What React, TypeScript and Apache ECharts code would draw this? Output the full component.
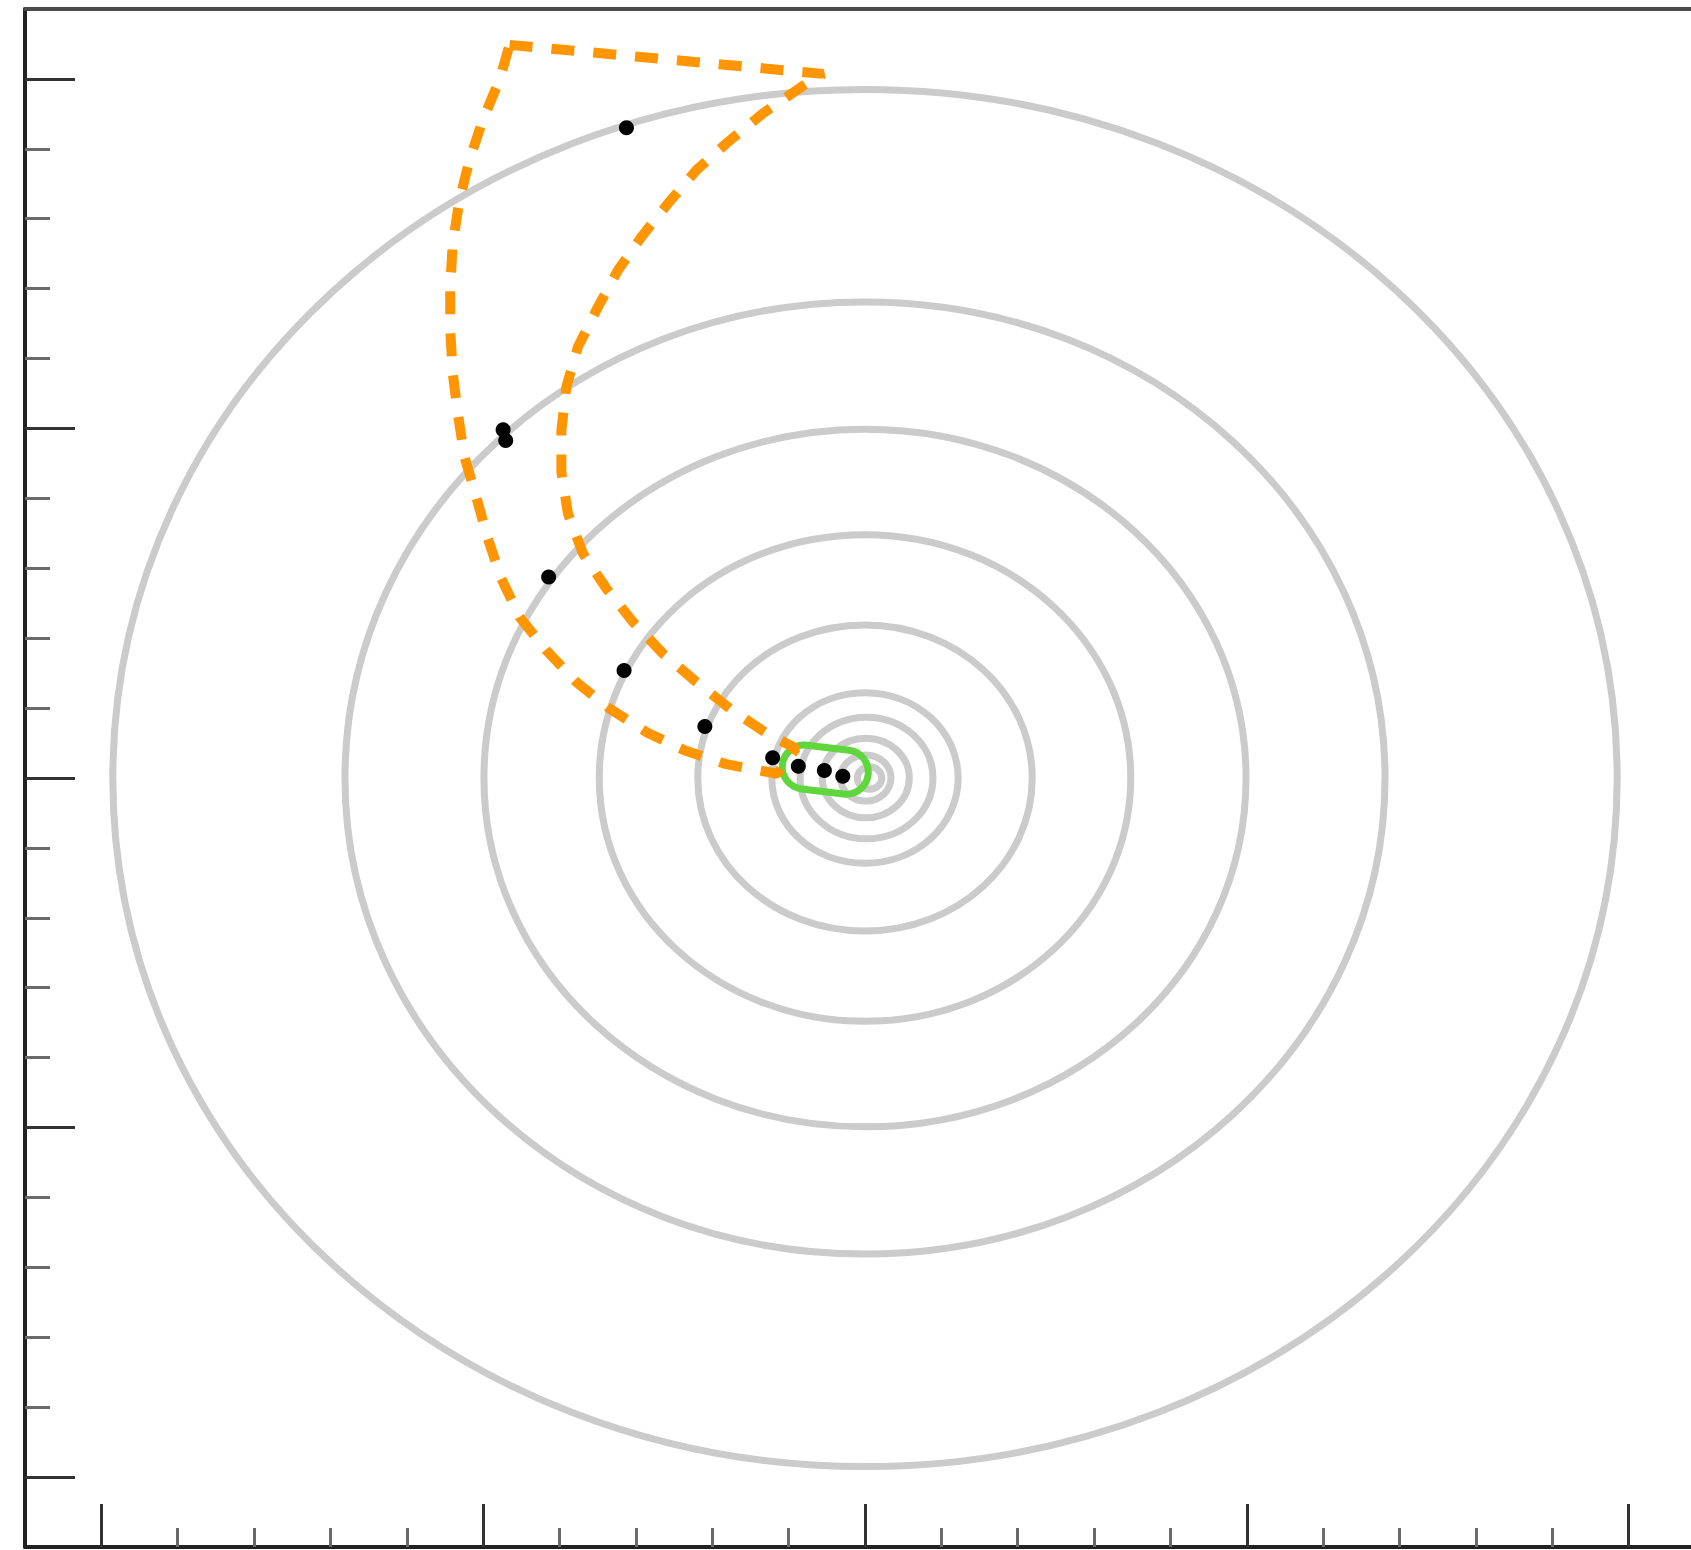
import React, { useEffect, useRef } from "react";
import * as echarts from "echarts";

// Closed orbits of the trajectory: centre (x, y) and radius, in axis units
const ringCx = [0, 0, 0, 0, 0, 0, 0.002, 0.001, 0.001, 0.006];
const ringCy = [0, 0, 0, 0, 0, 0, 0, 0, 0, 0];
const ringR = [0.985, 0.681, 0.499, 0.348, 0.219, 0.122, 0.087, 0.057, 0.033, 0.016];

// Sampled states along the trajectory
const dotX = [-0.3124, -0.4739, -0.4705, -0.4143, -0.3155, -0.2097, -0.1209, -0.0873, -0.0532, -0.0291];
const dotY = [0.9303, 0.4983, 0.4828, 0.2875, 0.1539, 0.0737, 0.0289, 0.0169, 0.0107, 0.0026];

// Dashed region outline: top edge, inner boundary, closing edge, outer boundary
const regionX = [
  -0.4654, -0.0546,
  -0.0763, -0.1332, -0.1812, -0.2206, -0.2578, -0.2927, -0.3234, -0.3496, -0.3759, -0.3911,
  -0.3976, -0.3976, -0.389, -0.3693, -0.3386, -0.3037, -0.2644, -0.2206, -0.1769, -0.131, -0.0904,
  -0.115, -0.1835, -0.2359, -0.2862, -0.3343, -0.378, -0.4173, -0.4523, -0.4763, -0.4939, -0.5091,
  -0.5245, -0.5332, -0.5398, -0.5432, -0.5432, -0.5398, -0.531, -0.5179, -0.5005, -0.4786, -0.4654,
];
const regionY = [
  1.0487, 1.0072,
  0.9938, 0.9509, 0.908, 0.8697, 0.822, 0.7742, 0.7266, 0.674, 0.6167, 0.5595,
  0.4975, 0.4378, 0.3782, 0.321, 0.2709, 0.2231, 0.1778, 0.1372, 0.0991, 0.0656, 0.0422,
  0.006, 0.0203, 0.0394, 0.0656, 0.0991, 0.1372, 0.1825, 0.2302, 0.2852, 0.3424, 0.402,
  0.4593, 0.5214, 0.5787, 0.6407, 0.7027, 0.7648, 0.8268, 0.884, 0.9413, 0.9986, 1.0487,
];

// Target zone: centre x, centre y, width, height (axis units), tilt in degrees
const targetZone = [-0.052, 0.012, 0.113, 0.063, -7];

// Axis ticks
const minorTicks = [-0.9, -0.8, -0.7, -0.6, -0.4, -0.3, -0.2, -0.1, 0.1, 0.2, 0.3, 0.4, 0.6, 0.7, 0.8, 0.9];
const majorTicks = [-1, -0.5, 0, 0.5, 1];
const axisMin = -1.1;
const axisMax = 1.1;

export default function App() {
  const ref = useRef<HTMLDivElement>(null);

  useEffect(() => {
    if (!ref.current) return;
    const chart = echarts.init(ref.current, null, { renderer: "svg" });

    const rings = ringR.map((r, i) => [ringCx[i], ringCy[i], r]);
    const dots = dotX.map((x, i) => [x, dotY[i]]);
    const region = regionX.map((x, i) => [x, regionY[i]]);

    const baseAxis = {
      type: "value" as const,
      min: axisMin,
      max: axisMax,
      axisLabel: { show: false },
      splitLine: { show: false },
    };

    const xMinor = {
      ...baseAxis,
      position: "bottom",
      axisLine: { show: true, onZero: false, lineStyle: { color: "#222", width: 4 } },
      axisTick: { show: true, inside: true, length: 19, customValues: minorTicks, lineStyle: { color: "#6a6a6a", width: 3 } },
    };
    const xMajor = {
      ...baseAxis,
      position: "bottom",
      axisLine: { show: false, onZero: false },
      axisTick: { show: true, inside: true, length: 43, customValues: majorTicks, lineStyle: { color: "#333", width: 3 } },
    };
    const xTop = {
      ...baseAxis,
      position: "top",
      axisLine: { show: true, onZero: false, lineStyle: { color: "#4a4a4a", width: 4 } },
      axisTick: { show: false },
    };
    const yMinor = {
      ...baseAxis,
      position: "left",
      axisLine: { show: true, onZero: false, lineStyle: { color: "#222", width: 4 } },
      axisTick: { show: true, inside: true, length: 25, customValues: minorTicks, lineStyle: { color: "#6a6a6a", width: 3 } },
    };
    const yMajor = {
      ...baseAxis,
      position: "left",
      axisLine: { show: false, onZero: false },
      axisTick: { show: true, inside: true, length: 50, customValues: majorTicks, lineStyle: { color: "#333", width: 3 } },
    };

    chart.setOption({
      animation: false,
      backgroundColor: "#ffffff",
      grid: { left: 25, top: 9, width: 1680, height: 1538, containLabel: false, outerBoundsMode: "none" },
      xAxis: [xMinor, xMajor, xTop],
      yAxis: [yMinor, yMajor],
      series: [
        {
          type: "custom",
          name: "orbits",
          coordinateSystem: "cartesian2d",
          xAxisIndex: 0,
          yAxisIndex: 0,
          z: 1,
          encode: { x: 0, y: 1 },
          data: rings,
          renderItem: (_params: any, api: any) => {
            const c = api.coord([api.value(0), api.value(1)]);
            const s = api.size([api.value(2), api.value(2)]);
            return {
              type: "ellipse",
              shape: { cx: c[0], cy: c[1], rx: s[0], ry: s[1] },
              style: { fill: "none", stroke: "#cbcbcb", lineWidth: 7 },
            };
          },
        },
        {
          type: "custom",
          name: "target",
          coordinateSystem: "cartesian2d",
          xAxisIndex: 0,
          yAxisIndex: 0,
          z: 3,
          encode: { x: 0, y: 1 },
          data: [targetZone],
          renderItem: (_params: any, api: any) => {
            const c = api.coord([api.value(0), api.value(1)]);
            const s = api.size([api.value(2), api.value(3)]);
            const w = s[0];
            const h = s[1];
            return {
              type: "rect",
              x: c[0],
              y: c[1],
              rotation: (api.value(4) * Math.PI) / 180,
              shape: { x: -w / 2, y: -h / 2, width: w, height: h, r: h / 2 },
              style: { fill: "none", stroke: "#5fd63b", lineWidth: 7 },
            };
          },
        },
        {
          type: "line",
          name: "region",
          xAxisIndex: 0,
          yAxisIndex: 0,
          z: 4,
          data: region,
          symbol: "none",
          showSymbol: false,
          clip: false,
          lineStyle: { color: "#ff9500", width: 10, type: [23, 19], cap: "butt", join: "bevel", opacity: 1 },
        },
        {
          type: "scatter",
          name: "states",
          xAxisIndex: 0,
          yAxisIndex: 0,
          z: 5,
          data: dots,
          symbol: "circle",
          symbolSize: 15,
          itemStyle: { color: "#000000", opacity: 1 },
        },
      ],
    });

    return () => chart.dispose();
  }, []);

  return (
    <div
      ref={ref}
      style={{ position: "absolute", left: 0, top: 0, width: 1691, height: 1550, background: "#fff" }}
    />
  );
}
